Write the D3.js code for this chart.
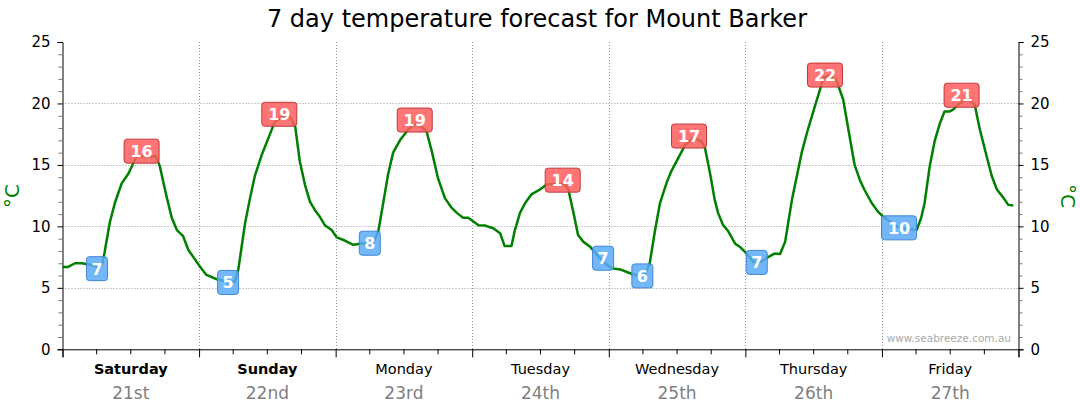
<!DOCTYPE html>
<html>
<head>
<meta charset="utf-8">
<script src="https://cdn.jsdelivr.net/npm/d3@7"></script>
<style>
  html, body { margin: 0; padding: 0; background: #fff; }
  svg { display: block; }
</style>
</head>
<body>
<svg id="chart" width="1080" height="414"></svg>
<script>
// ---- data ----
const title = "7 day temperature forecast for Mount Barker";
const dayNames = ["Saturday", "Sunday", "Monday", "Tuesday", "Wednesday", "Thursday", "Friday"];
const dayDates = ["21st", "22nd", "23rd", "24th", "25th", "26th", "27th"];
const boldDays = ["Saturday", "Sunday"];
const yTicks = [0, 5, 10, 15, 20, 25];

// hours since Saturday 00:00, temperature in °C
const hours = [0,1,2.2,3.4,5.2,6.4,7.0,7.4,8.3,9.2,10.4,11.6,13,14.2,16.4,17.1,18.3,19.2,20.1,21.2,22.1,23,24.2,25.3,27.1,28.9,30.3,30.9,31.5,32.1,33,33.8,35,36.2,37.3,38.5,40,40.9,41.7,42.6,43.5,44.4,45.2,46.1,47.3,48.2,49.6,51.1,52.6,54.6,55.5,56.4,57.2,58.1,59.3,60.8,61.9,63.1,64,64.9,66,67.2,68.4,69.3,70.4,71.3,73.1,74.2,75.7,76.9,77.7,78.9,79.5,80.4,81.3,82.4,83.9,85.1,86.5,88.3,88.9,89.8,90.6,91.5,92.7,93.9,95,96.5,98,99.4,100.9,102.3,103.2,104.1,105,106.2,107,108.2,109.4,110.8,112.3,112.9,113.8,114.6,115.2,116.1,117,118.2,119,120.2,121.4,122.8,124,125.2,126.1,127,127.6,128.2,129.1,129.9,131,132.2,133.1,133.7,134.8,136,137.2,138.1,139.2,140.1,140.9,142.2,143.3,144.2,145.4,146.6,148,150.1,150.9,151.5,152.4,153.3,154.2,155,155.9,156.5,157.4,158.3,159.4,160.3,161.2,162.4,163.3,164.2,165.4,166.2,167.1];
const temps = [6.7,6.7,7.0,7.0,6.85,6.6,7.0,7.9,10.3,11.9,13.5,14.3,15.7,15.7,15.7,14.9,12.4,10.7,9.7,9.2,8.1,7.5,6.7,6.05,5.7,5.5,5.5,6.5,8.4,10.3,12.4,14.1,15.8,17.2,18.5,18.9,18.9,18.1,15.3,13.4,12.0,11.3,10.8,10.1,9.7,9.1,8.85,8.5,8.6,8.6,9.6,12.0,14.2,16.0,17.0,17.9,18.3,18.1,17.7,16.1,13.9,12.3,11.5,11.1,10.7,10.7,10.1,10.07,9.85,9.45,8.4,8.4,9.7,11.1,11.9,12.6,13.0,13.4,13.45,13.45,13.0,11.1,9.3,8.76,8.35,7.7,7.1,6.6,6.5,6.25,6.0,6.0,7.0,9.6,11.9,13.6,14.5,15.55,16.6,17.2,16.9,16.4,14.3,12.2,11.1,10.1,9.6,8.6,8.35,7.8,7.1,7.1,7.5,7.8,7.76,8.76,10.5,12.2,14.2,16.0,17.9,19.75,21.1,22.07,22.25,21.9,20.3,17.9,15.0,13.8,13.0,11.9,11.2,10.8,10.4,10.0,9.8,9.7,10.7,11.9,14.9,17.0,18.4,19.35,19.35,19.5,19.9,20.2,20.25,19.9,17.9,15.7,14.1,13.0,12.3,11.75,11.7];

// daily max / min annotations
const maxHours = [13.9, 38.1, 61.9, 87.9, 110.1, 134.0, 158.0];
const maxTemps = [16.12, 19.12, 18.65, 13.76, 17.35, 22.31, 20.67];
const maxLabels = ["16", "19", "19", "14", "17", "22", "21"];
const minHours = [6.06, 29.1, 54.0, 95.0, 101.9, 122.0, 147.0];
const minTemps = [6.56, 5.44, 8.63, 7.41, 5.97, 7.07, 9.88];
const minLabels = ["7", "5", "8", "7", "6", "7", "10"];

// ---- layout ----
const font = "'DejaVu Sans', Verdana, sans-serif";
const svg = d3.select("#chart");
const m = { left: 62.5, right: 1018.5, top: 42, bottom: 349.3 };

const x = d3.scaleLinear().domain([0, 168]).range([m.left, m.right]);
const y = d3.scaleLinear().domain([0, 25]).range([m.bottom, m.top]);

// title
svg.append("text")
  .attr("x", 537).attr("y", 27)
  .attr("text-anchor", "middle")
  .attr("font-family", font).attr("font-size", 24)
  .attr("fill", "#000")
  .text(title);

// grid
const grid = svg.append("g").attr("stroke", "#999").attr("stroke-dasharray", "1,2").attr("stroke-width", 1);
grid.selectAll("line.h").data(yTicks.filter(d => d > 0 && d < 25)).join("line")
  .attr("x1", m.left).attr("x2", m.right)
  .attr("y1", d => Math.round(y(d)) + 0.5).attr("y2", d => Math.round(y(d)) + 0.5);
grid.selectAll("line.v").data(d3.range(1, 7)).join("line")
  .attr("x1", d => Math.round(x(d * 24)) + 0.5).attr("x2", d => Math.round(x(d * 24)) + 0.5)
  .attr("y1", m.top).attr("y2", m.bottom);

// axes
const minorY = d3.range(0, 26).filter(d => d % 5 !== 0);
function drawYAxis(g, isLeft) {
  const ax = isLeft ? d3.axisLeft(y) : d3.axisRight(y);
  g.call(ax.tickValues(yTicks).tickSize(5).tickPadding(7).tickFormat(d3.format("d")));
  g.select(".domain").attr("stroke", "#000");
  g.selectAll(".tick line").attr("stroke", "#000");
  g.selectAll(".tick text").attr("font-family", font).attr("font-size", 15).attr("fill", "#000");
  const dir = isLeft ? -1 : 1;
  g.selectAll("line.minor").data(minorY).join("line").attr("class", "minor")
    .attr("x1", 0).attr("x2", dir * 4)
    .attr("y1", d => y(d) + 0.5).attr("y2", d => y(d) + 0.5)
    .attr("stroke", "#777");
}
const yl = svg.append("g").attr("transform", `translate(${m.left},0)`);
drawYAxis(yl, true);
const yr = svg.append("g").attr("transform", `translate(${m.right},0)`);
drawYAxis(yr, false);

// x axis
const xg = svg.append("g").attr("transform", `translate(0,${m.bottom})`);
xg.call(d3.axisBottom(x).tickValues(d3.range(0, 169, 24)).tickSize(8).tickFormat(""));
xg.select(".domain").attr("stroke", "#000");
xg.selectAll(".tick line").attr("stroke", "#000");
xg.selectAll("line.minor").data(d3.range(0, 168, 6).filter(d => d % 24 !== 0)).join("line")
  .attr("class", "minor")
  .attr("x1", d => x(d)).attr("x2", d => x(d))
  .attr("y1", 0).attr("y2", 5).attr("stroke", "#000");

// day labels
svg.append("g").selectAll("text").data(dayNames).join("text")
  .attr("x", (d, i) => x(i * 24 + 12)).attr("y", 374)
  .attr("text-anchor", "middle")
  .attr("font-family", font).attr("font-size", 14.5)
  .attr("font-weight", d => boldDays.includes(d) ? "bold" : "normal")
  .attr("fill", "#000")
  .text(d => d);
svg.append("g").selectAll("text").data(dayDates).join("text")
  .attr("x", (d, i) => x(i * 24 + 12)).attr("y", 399)
  .attr("text-anchor", "middle")
  .attr("font-family", font).attr("font-size", 17)
  .attr("fill", "#808080")
  .text(d => d);

// axis titles
svg.append("text")
  .attr("transform", `translate(19,196) rotate(-90)`)
  .attr("text-anchor", "middle")
  .attr("font-family", font).attr("font-size", 20).attr("fill", "#008000")
  .text("°C");
svg.append("text")
  .attr("transform", `translate(1061,196) rotate(90)`)
  .attr("text-anchor", "middle")
  .attr("font-family", font).attr("font-size", 20).attr("fill", "#008000")
  .text("°C");

// watermark
svg.append("text")
  .attr("x", 1011).attr("y", 342)
  .attr("text-anchor", "end")
  .attr("font-family", font).attr("font-size", 10.5)
  .attr("fill", "#aaa")
  .text("www.seabreeze.com.au");

// temperature line
const pts = hours.map((h, i) => [h, temps[i]]);
svg.append("path")
  .datum(pts)
  .attr("fill", "none")
  .attr("stroke", "#008000")
  .attr("stroke-width", 2.5)
  .attr("stroke-linejoin", "round")
  .attr("d", d3.line().x(d => x(d[0])).y(d => y(d[1])));

// annotations
function labels(hs, ts, txt, fill, stroke) {
  const g = svg.append("g");
  const items = hs.map((h, i) => ({ h, t: ts[i], s: txt[i] }));
  const grp = g.selectAll("g").data(items).join("g")
    .attr("transform", d => `translate(${x(d.h)},${y(d.t)})`);
  const w = d => d.s.length > 1 ? 35 : 21;
  grp.append("rect")
    .attr("x", d => -w(d) / 2).attr("y", -12)
    .attr("width", w).attr("height", 24)
    .attr("rx", 3).attr("ry", 3)
    .attr("fill", fill).attr("fill-opacity", 0.85)
    .attr("stroke", stroke).attr("stroke-width", 1);
  grp.append("text")
    .attr("y", 6)
    .attr("text-anchor", "middle")
    .attr("font-family", font).attr("font-size", 16).attr("font-weight", "bold")
    .attr("fill", "#fff")
    .text(d => d.s);
}
labels(maxHours, maxTemps, maxLabels, "#ff5c5c", "#c03a3a");
labels(minHours, minTemps, minLabels, "#5aaaf8", "#3f86d6");
</script>
</body>
</html>
